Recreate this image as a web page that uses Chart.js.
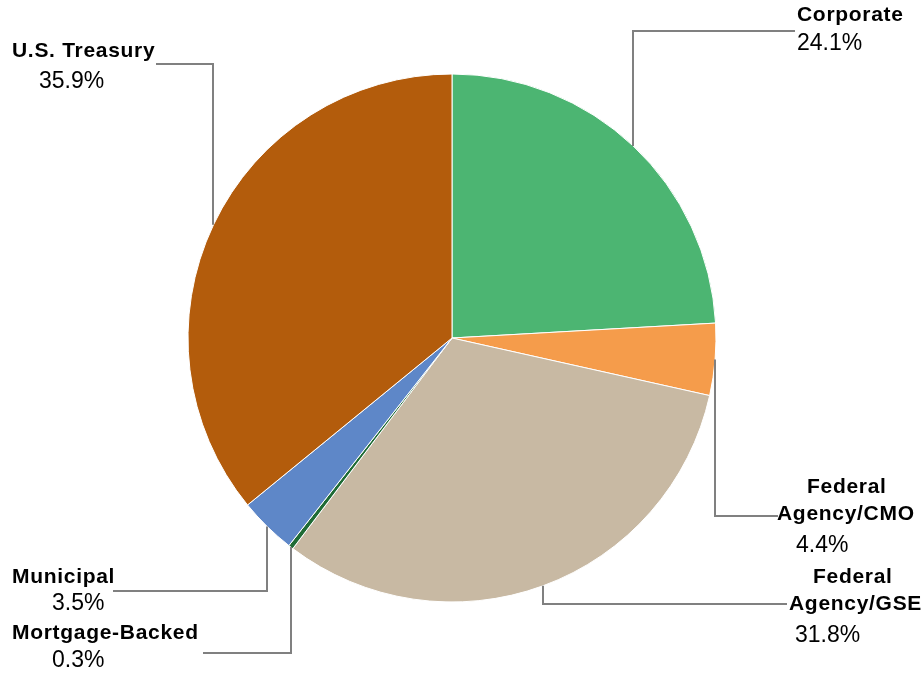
<!DOCTYPE html>
<html lang="en">
<head>
<meta charset="UTF-8">
<title>Portfolio by Sector</title>
<script src="https://cdn.jsdelivr.net/npm/chart.js"></script>
<style>
  body { margin: 0; background: #fff; }
</style>
</head>
<body>
<canvas id="sectorPie" width="922" height="681"></canvas>
<script>
// sector shares, clockwise from 12 o'clock
var sectors = ['Corporate', 'Federal Agency/CMO', 'Federal Agency/GSE', 'Mortgage-Backed', 'Municipal', 'U.S. Treasury'];
var shares = [24.1, 4.4, 31.8, 0.3, 3.5, 35.9];
var sliceColors = ['#4cb572', '#f59c4b', '#c8b9a3', '#1f6b35', '#5e87c8', '#b35c0c'];

// label text lines (bold name lines, then the percentage)
var nameLines = [['Corporate'], ['Federal', 'Agency/CMO'], ['Federal', 'Agency/GSE'], ['Mortgage-Backed'], ['Municipal'], ['U.S. Treasury']];

// label layout: leader elbow y, leader end x, left x and baseline per text line
var leaderY = [31, 516, 604, 653, 591, 64];
var leaderEndX = [795, 778, 787, 203, 113, 156];
var textX = [[797, 797], [807, 777, 796], [813, 789, 795], [12, 52], [12, 52], [12, 39]];
var textY = [[21, 50], [493, 520, 552], [583, 610, 642], [639, 667], [583, 610], [57, 88]];

var leaderLabels = {
    id: 'leaderLabels',
    afterDatasetsDraw: function (chart) {
        var ctx = chart.ctx;
        var arcs = chart.getDatasetMeta(0).data;
        ctx.save();
        arcs.forEach(function (arc, i) {
            var p = arc.getProps(['x', 'y', 'startAngle', 'endAngle', 'outerRadius'], true);
            var mid = (p.startAngle + p.endAngle) / 2;
            var sx = Math.round(p.x + Math.cos(mid) * p.outerRadius);
            var sy = p.y + Math.sin(mid) * p.outerRadius;
            ctx.strokeStyle = '#808080';
            ctx.lineWidth = 2;
            ctx.beginPath();
            ctx.moveTo(sx, sy);
            ctx.lineTo(sx, leaderY[i]);
            ctx.lineTo(leaderEndX[i], leaderY[i]);
            ctx.stroke();

            ctx.fillStyle = '#000';
            ctx.textAlign = 'left';
            ctx.textBaseline = 'alphabetic';
            var lines = nameLines[i];
            ctx.font = 'bold 21px "Liberation Sans", Arial, sans-serif';
            ctx.letterSpacing = '0.7px';
            for (var j = 0; j < lines.length; j++) {
                ctx.fillText(lines[j], textX[i][j], textY[i][j]);
            }
            ctx.font = '23px "Liberation Sans", Arial, sans-serif';
            ctx.letterSpacing = '0px';
            ctx.fillText(shares[i].toFixed(1) + '%', textX[i][lines.length], textY[i][lines.length]);
        });
        ctx.restore();
    }
};

var ctx = document.getElementById('sectorPie').getContext('2d');
var sectorPie = new Chart(ctx, {
    type: 'pie',
    data: {
        labels: sectors,
        datasets: [{
            data: shares,
            backgroundColor: sliceColors,
            borderColor: '#ffffff',
            borderWidth: 1
        }]
    },
    options: {
        responsive: false,
        animation: false,
        radius: 264,
        layout: { padding: { left: 170, right: 188, top: 70, bottom: 75 } },
        plugins: {
            legend: { display: false },
            tooltip: { enabled: false }
        }
    },
    plugins: [leaderLabels]
});
</script>
</body>
</html>
